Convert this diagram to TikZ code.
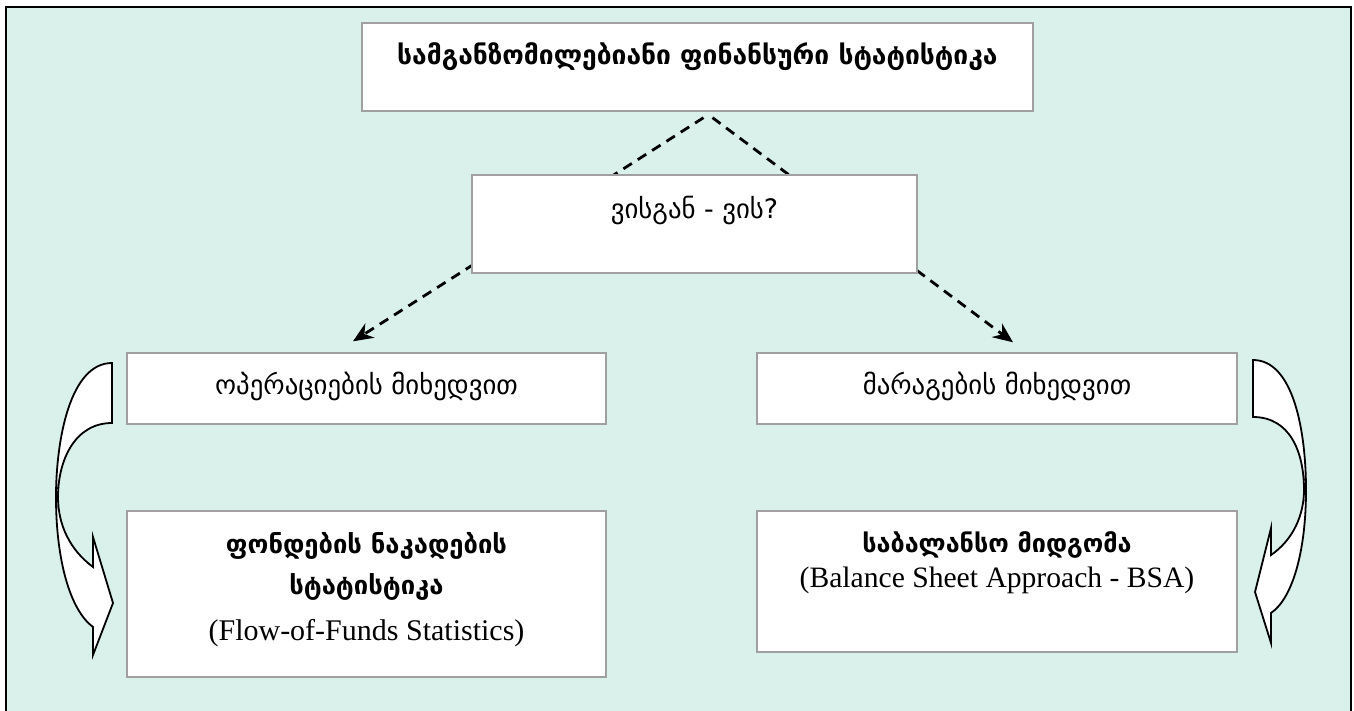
\documentclass[tikz,border=0pt]{standalone}
\usepackage{fontspec}
\setmainfont{Liberation Serif}
\newfontfamily\geo{DejaVu Sans}
\usepackage{xcolor}
\usetikzlibrary{positioning, arrows.meta}
\definecolor{mint}{RGB}{218,240,234}
\definecolor{edgegray}{RGB}{160,160,160}

\begin{document}
\begin{tikzpicture}[x=1pt, y=-1pt,
    panel/.style={draw=edgegray, line width=1.4pt, fill=white, inner sep=0pt, align=center},
    kartuli/.style={font=\geo\fontsize{26.8}{32}\selectfont},
    link/.style={dash pattern=on 10pt off 7pt, line width=2.8pt, -{Stealth[length=20pt,width=17pt]}},
    bendarrow/.style={draw=black, line width=1.8pt, fill=white}]
  \useasboundingbox (0,0) rectangle (1354,711);
  \draw[line width=2.5pt, fill=mint] (6,7) rectangle (1351,725);

  \node[panel, minimum width=671pt, minimum height=88pt, text height=0pt, text depth=5pt,
        font=\geo\bfseries\fontsize{26.4}{31}\selectfont] (title) at (697.5,67)
        {სამგანზომილებიანი ფინანსური სტატისტიკა};
  \node[panel, kartuli, minimum width=479pt, minimum height=71pt, text height=11pt, text depth=0pt]
        (ops) at (366.5,388.5) {ოპერაციების მიხედვით};
  \node[panel, kartuli, minimum width=480pt, minimum height=71pt, text height=11pt, text depth=0pt]
        (stocks) at (997,388.5) {მარაგების მიხედვით};
  \node[panel, minimum width=479pt, minimum height=166pt, text height=92pt, text depth=0pt,
        font=\fontsize{30}{41}\selectfont] (flows) at (366.5,594)
        {{\geo\bfseries\fontsize{25.6}{30}\selectfont ფონდების ნაკადების}\\
         {\geo\bfseries\fontsize{25.6}{30}\selectfont სტატისტიკა}\\[5pt]
         (Flow-of-Funds Statistics)};
  \node[panel, minimum width=480pt, minimum height=141pt, text height=11pt, text depth=0pt,
        font=\fontsize{29.6}{35}\selectfont] (bsa) at (997,581.5)
        {{\geo\bfseries\fontsize{25.2}{30}\selectfont საბალანსო მიდგომა}\\
         (Balance Sheet Approach - BSA)};

  \draw[link] ([xshift=6pt,yshift=-6pt]title.south) -- ([xshift=-13.5pt,yshift=11pt]ops.north);
  \draw[link] ([xshift=15pt,yshift=-6pt]title.south) -- ([xshift=16pt,yshift=10pt]stocks.north);

  \node[panel, kartuli, minimum width=445pt, minimum height=98pt, text height=0pt, text depth=10pt]
        (who) at (694.5,224) {ვისგან - ვის?};

  % curved block arrows beside the two columns
  \draw[bendarrow] (112,363) .. controls (70,363) and (56,440) .. (56,497)
    .. controls (56,560) and (70,610) .. (93,627) -- (93,655) -- (113,603) -- (93,537) -- (93,567)
    .. controls (70,550) and (58,525) .. (58,497) .. controls (58,460) and (75,423) .. (112,423) -- cycle;
  \draw[bendarrow] (1253,360) .. controls (1293,360) and (1306,430) .. (1306,490)
    .. controls (1306,550) and (1293,598) .. (1271,613) -- (1271,643) -- (1255,592) -- (1271,528) -- (1271,555)
    .. controls (1293,540) and (1304,515) .. (1304,490) .. controls (1304,452) and (1290,417) .. (1253,417) -- cycle;
\end{tikzpicture}
\end{document}
